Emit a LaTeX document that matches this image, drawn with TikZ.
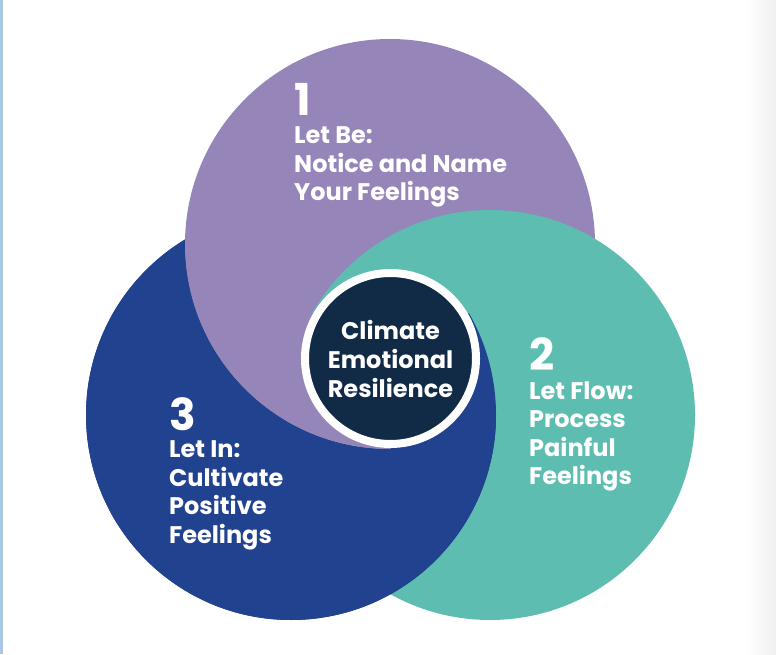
\documentclass[tikz,border=0pt]{standalone}
\usepackage{fontspec}
\setmainfont{Poppins}
\usetikzlibrary{positioning, calc}
\definecolor{letbe}{HTML}{9685B9}
\definecolor{letflow}{HTML}{5DBDB0}
\definecolor{letin}{HTML}{21428F}
\definecolor{coredark}{HTML}{112A46}
\definecolor{pageedge}{HTML}{A9C6E3}
\tikzset{
  stepnum/.style={
    inner sep=0pt, anchor=north west, text=white,
    font=\fontsize{44}{44}\selectfont\bfseries,
  },
  steptext/.style={
    inner sep=0pt, align=left, text=white,
    font=\fontsize{24}{28.5}\selectfont\bfseries,
  },
  core/.style={
    circle, minimum size=171pt, inner sep=0pt,
    fill=coredark, draw=white, line width=8pt,
    text=white, align=center,
    font=\fontsize{24}{29}\selectfont\bfseries,
  },
}

\begin{document}
\begin{tikzpicture}[x=1pt, y=1pt]

  \useasboundingbox (0,0) rectangle (776,654);
  \fill[pageedge] (0,0) rectangle (3,654);
  \shade[left color=white, right color=black!6] (745,0) rectangle (776,654);

  % disc centres
  \coordinate (cbe) at (390,410);
  \coordinate (cin) at (291,239);
  \coordinate (cflow) at (490,239);
  \coordinate (mid) at (390.5,295.5);

  % plain stack first: let in, let be, let flow on top
  \foreach \disc in {in,be,flow}
    \fill[let\disc] (c\disc) circle[radius=205pt];

  % let in goes over let flow wherever let be is not
  \begin{scope}
    \clip (cin) circle[radius=205pt];
    \fill[letin, even odd rule] (cin) circle[radius=206pt] (cbe) circle[radius=205pt];
  \end{scope}

  % corners of the common part round the middle
  \begin{scope}
    \clip (mid) -- ($(mid)+(-90:400)$) -- ($(mid)+(-30:400)$) -- ($(mid)+(30:400)$) -- cycle;
    \fill[letin] (cin) circle[radius=205pt];
  \end{scope}
  \begin{scope}
    \clip (mid) -- ($(mid)+(150:400)$) -- ($(mid)+(210:400)$) -- ($(mid)+(270:400)$) -- cycle;
    \fill[letbe] (cbe) circle[radius=205pt];
  \end{scope}

  \node[core] (core) at (mid) {Climate\\Emotional\\Resilience};

  \node[stepnum] (num1) at (294,571) {1};
  \node[steptext, below right=11pt and 0pt of num1.south west] (text1) {Let Be:\\Notice and Name\\Your Feelings};

  \node[stepnum] (num2) at (529,317) {2};
  \node[steptext, below right=11pt and 0pt of num2.south west] (text2) {Let Flow:\\Process\\Painful\\Feelings};

  \node[stepnum] (num3) at (169,257) {3};
  \node[steptext, below right=10pt and 0pt of num3.south west] (text3) {Let In:\\Cultivate\\Positive\\Feelings};

\end{tikzpicture}
\end{document}
